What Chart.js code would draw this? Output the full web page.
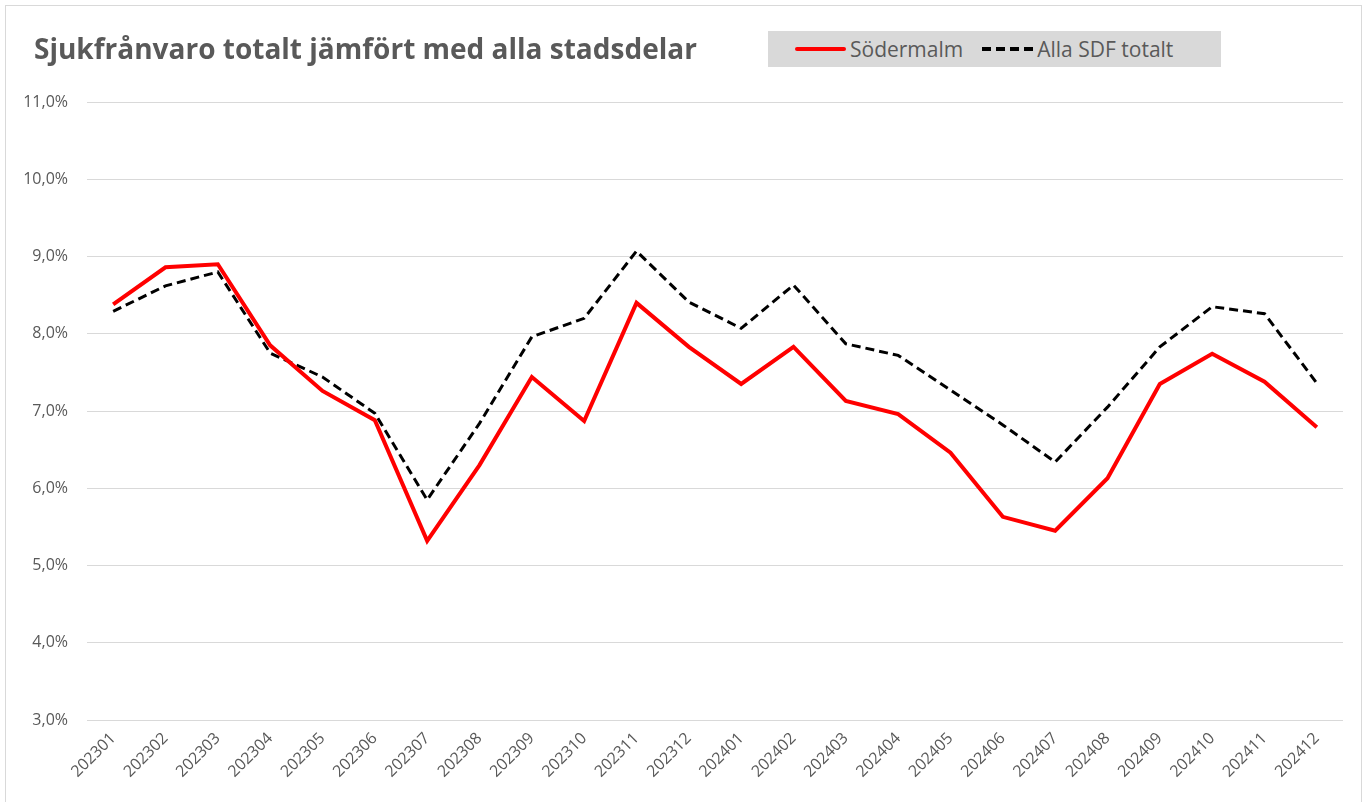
<!DOCTYPE html>
<html>
<head>
<meta charset="utf-8">
<script src="https://cdn.jsdelivr.net/npm/chart.js@4/dist/chart.umd.min.js"></script>
<style>
  html, body { margin: 0; padding: 0; background: #ffffff; }
  #wrap { position: relative; width: 1371px; height: 802px; overflow: hidden; }
  #frame { position: absolute; left: 5px; top: 5px; width: 1357px; height: 810px; border: 1px solid #d9d9d9; box-sizing: border-box; pointer-events: none; }
  #c { position: absolute; left: 0; top: 0; }
  #legend { position: absolute; left: 768px; top: 31px; width: 453px; height: 36px; box-sizing: border-box; padding-left: 27px; background: #d9d9d9; display: flex; align-items: center; font-family: "Open Sans", "Liberation Sans", sans-serif; font-size: 21px; color: #595959; white-space: nowrap; }
  .item { display: flex; align-items: center; }
  .swatch { width: 51px; margin-right: 4px; }
</style>
</head>
<body>
<div id="wrap">
  <canvas id="c" width="1371" height="802"></canvas>
  <div id="frame"></div>
  <div id="legend"></div>
</div>
<script>
const categories = ["202301","202302","202303","202304","202305","202306","202307","202308","202309","202310","202311","202312","202401","202402","202403","202404","202405","202406","202407","202408","202409","202410","202411","202412"];
const sodermalm = [8.38, 8.86, 8.90, 7.85, 7.26, 6.88, 5.32, 6.30, 7.44, 6.87, 8.40, 7.83, 7.35, 7.83, 7.13, 6.96, 6.46, 5.63, 5.45, 6.13, 7.35, 7.74, 7.38, 6.79];
const allaSdf = [8.29, 8.62, 8.80, 7.75, 7.44, 6.97, 5.85, 6.84, 7.96, 8.20, 9.07, 8.41, 8.07, 8.63, 7.87, 7.72, 7.27, 6.82, 6.34, 7.05, 7.83, 8.35, 8.26, 7.36];
const seriesLabels = ["Södermalm", "Alla SDF totalt"];
const chartTitle = "Sjukfrånvaro totalt jämfört med alla stadsdelar";
const yTicks = [3, 4, 5, 6, 7, 8, 9, 10, 11];

const textColor = "#595959";
const fontFamily = "'Open Sans', 'Liberation Sans', sans-serif";

const titleShift = {
  id: "titleShift",
  afterLayout(chart) {
    if (chart.titleBlock) { chart.titleBlock.left = 34; }
  }
};

const chart = new Chart(document.getElementById("c"), {
  type: "line",
  data: {
    labels: categories,
    datasets: [
      { label: seriesLabels[0], data: sodermalm, borderColor: "#ff0000", backgroundColor: "#ff0000", borderWidth: 4, pointRadius: 0, tension: 0, borderJoinStyle: "miter" },
      { label: seriesLabels[1], data: allaSdf, borderColor: "#000000", backgroundColor: "#000000", borderWidth: 3, borderDash: [9, 5], pointRadius: 0, tension: 0 }
    ]
  },
  options: {
    responsive: false,
    animation: false,
    layout: { padding: { left: 7, right: 28, top: 0, bottom: 0 } },
    plugins: {
      legend: { display: false },
      tooltip: { enabled: false },
      title: {
        display: true,
        text: chartTitle,
        align: "start",
        color: textColor,
        font: { family: fontFamily, size: 28, weight: "bold", lineHeight: 1.2 },
        padding: { top: 34.2, bottom: 34.2 }
      }
    },
    scales: {
      x: {
        offset: true,
        grid: { display: false, drawTicks: false },
        border: { display: false },
        ticks: { color: textColor, font: { family: fontFamily, size: 16 }, maxRotation: 45, minRotation: 45, autoSkip: false, padding: 9 },
        afterFit: (s) => { s.height = 82; }
      },
      y: {
        min: 3,
        max: 11,
        afterBuildTicks: (s) => { s.ticks = yTicks.map(v => ({ value: v })); },
        grid: { color: "#d9d9d9", lineWidth: 1, drawTicks: false },
        border: { display: false },
        ticks: {
          color: textColor,
          font: { family: fontFamily, size: 16 },
          padding: 19,
          callback: (v) => v.toFixed(1).replace(".", ",") + "%"
        },
        afterFit: (s) => { s.width = 80; }
      }
    }
  },
  plugins: [titleShift]
});

// HTML legend built from the chart's datasets
const legendEl = document.getElementById("legend");
chart.data.datasets.forEach((ds, i) => {
  const item = document.createElement("div");
  item.className = "item";
  if (i > 0) item.style.marginLeft = "19px";
  const sw = document.createElement("div");
  sw.className = "swatch";
  if (ds.borderDash) {
    sw.style.height = "4px";
    sw.style.background = "repeating-linear-gradient(to right, " + ds.borderColor + " 0 9px, transparent 9px 14px)";
  } else {
    sw.style.height = "4px";
    sw.style.background = ds.borderColor;
    sw.style.borderRadius = "2px";
  }
  const tx = document.createElement("span");
  tx.textContent = ds.label;
  item.appendChild(sw);
  item.appendChild(tx);
  legendEl.appendChild(item);
});
</script>
</body>
</html>
